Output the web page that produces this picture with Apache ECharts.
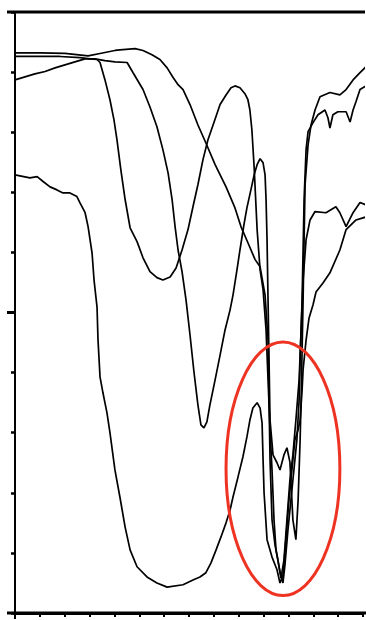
<!DOCTYPE html>
<html>
<head>
<meta charset="utf-8">
<script src="https://cdn.jsdelivr.net/npm/echarts@6/dist/echarts.min.js"></script>
<style>
html,body{margin:0;padding:0;background:#fff;}
#chart{width:366px;height:620px;}
</style>
</head>
<body>
<div id="chart"></div>
<script>
// x ticks every 10 (0..140), y ticks every 10 (0..100)
const xTicks = [0, 140, 10];
const yTicks = [0, 100, 10];

const curve1 = [[0,93.2],[10.1,93.2],[20.1,93.1],[29.4,92.7],[34.2,93.1],[40.2,93.6],[42.2,93.7],[48.3,93.9],[51.5,93.6],[55.1,92.9],[58.3,92.1],[61.2,90.7],[63.6,89.1],[65.6,87.9],[67.6,87.1],[70.4,84.6],[73.6,81.2],[76.8,78.2],[80.5,74.6],[84.9,70.9],[88.5,67.4],[90.9,64.3],[93.7,61.6],[96.6,58.8],[98.6,57.6],[100.6,52.9],[101.8,45.4],[102.2,35.4],[102.6,25.5],[103.4,15.5],[104.6,11.3],[105.8,8.8],[107.0,5.8],[108.2,8.8],[109.4,15.5],[110.6,22.1],[111.8,26.3],[113.0,32.1],[114.3,38.8],[115.1,47.1],[115.9,55.4],[117.1,62.1],[118.7,65.4],[120.7,66.8],[125.1,66.6],[129.1,67.6],[130.7,66.6],[133.2,64.3],[136.0,66.6],[138.8,68.3],[141.2,67.9]];

const curve2 = [[0,92.6],[10.1,92.6],[18.1,92.6],[26.1,92.4],[30.2,92.2],[33.0,92.1],[34.2,91.6],[36.2,88.7],[38.2,85.4],[39.8,82.1],[41.0,78.8],[42.6,73.7],[44.3,68.8],[46.3,64.1],[49.1,61.8],[51.5,59.1],[54.3,56.8],[57.1,55.8],[59.5,55.4],[62.4,55.9],[64.8,57.4],[67.2,60.4],[69.6,63.8],[71.6,67.6],[73.6,71.3],[75.6,75.4],[77.6,78.7],[80.1,81.7],[82.5,84.6],[84.9,86.2],[86.9,87.4],[88.5,87.7],[90.5,87.4],[92.5,86.4],[93.7,85.4],[94.5,83.7],[95.3,80.4],[96.2,74.2],[97.4,63.8],[98.6,57.1],[99.8,53.8],[101.0,47.1],[101.8,38.8],[102.6,30.5],[103.4,23.8],[104.2,15.5],[105.0,10.5],[106.6,6.8],[107.8,5.0],[108.6,8.0],[109.8,13.8],[111.0,18.8],[112.2,23.8],[113.4,28.8],[114.3,35.4],[114.7,42.1],[115.5,52.1],[115.9,60.4],[116.3,68.8],[117.1,77.1],[117.9,80.1],[119.9,81.6],[121.9,82.9],[124.7,83.7],[125.9,82.4],[126.7,80.7],[127.9,82.9],[129.9,83.4],[133.2,83.4],[134.8,81.7],[136.0,83.7],[137.2,85.1],[138.8,87.1],[141.2,87.7]];

const curve3 = [[0,88.7],[4.0,89.2],[8.0,89.7],[12.1,90.1],[16.1,90.7],[20.1,91.2],[24.1,91.7],[28.2,92.2],[32.2,92.2],[36.2,91.9],[40.2,91.7],[45.1,91.6],[47.5,89.9],[51.5,87.1],[54.3,84.2],[57.1,80.9],[59.5,77.1],[61.6,73.2],[63.2,68.8],[64.4,64.3],[65.6,60.4],[67.2,56.8],[68.8,52.1],[70.4,46.3],[72.0,40.1],[73.6,34.6],[74.8,31.3],[76.0,30.8],[77.2,31.8],[78.4,34.6],[80.5,38.8],[82.5,42.9],[84.5,47.1],[86.5,50.4],[87.7,52.9],[89.3,57.1],[90.5,60.4],[92.1,64.6],[93.3,67.4],[94.9,70.4],[96.2,72.9],[97.4,74.6],[98.6,75.6],[99.8,74.9],[100.6,72.9],[101.0,68.8],[101.4,62.1],[101.8,52.1],[102.2,42.1],[102.6,32.1],[103.8,26.3],[105.4,25.0],[106.6,23.8],[108.2,26.3],[109.4,27.5],[110.6,25.1],[111.8,15.5],[113.0,12.2],[113.9,18.8],[114.7,28.8],[115.1,35.4],[115.5,43.8],[115.9,52.1],[116.3,62.1],[116.7,71.3],[117.9,77.9],[119.1,81.2],[120.7,83.7],[122.7,85.9],[126.7,86.6],[130.7,86.2],[133.2,87.1],[136.0,88.7],[138.8,89.9],[141.2,90.9]];

const curve4 = [[0,72.9],[6.0,72.4],[8.9,72.6],[11.3,71.8],[14.1,70.9],[16.9,70.4],[19.3,69.9],[22.1,69.9],[24.9,69.3],[26.1,68.3],[28.2,66.6],[29.4,64.3],[31.0,59.9],[31.8,55.4],[33.0,50.9],[33.4,45.4],[34.2,39.3],[35.4,36.6],[37.0,33.3],[38.2,30.0],[40.2,23.8],[42.2,19.3],[44.3,14.3],[46.3,10.5],[49.1,7.7],[53.1,6.0],[57.1,5.0],[61.2,4.3],[67.6,4.7],[71.6,5.5],[74.4,6.0],[76.8,6.7],[78.8,8.3],[80.9,10.5],[82.9,12.7],[84.9,15.0],[86.5,17.1],[87.7,19.3],[89.7,22.6],[91.7,26.0],[93.3,29.3],[94.5,32.1],[95.7,34.1],[97.4,35.0],[98.6,34.1],[99.4,31.6],[99.8,25.5],[100.2,20.0],[101.4,12.2],[103.4,9.3],[105.4,7.2],[106.6,5.0],[107.8,6.3],[109.0,12.2],[110.2,18.8],[111.4,23.8],[112.6,28.8],[113.9,30.5],[114.7,32.1],[115.5,37.1],[115.9,40.5],[117.1,45.4],[118.3,49.1],[119.9,51.3],[121.1,53.4],[123.9,54.9],[126.7,56.6],[130.7,60.4],[133.2,63.8],[137.2,65.4],[141.2,65.9]];

// highlighted region (ellipse) in data units: centre x, centre y, half-width, half-height
const highlight = [107.8, 24.0, 22.9, 21.1];
const majorYTick = 50;

const chart = echarts.init(document.getElementById('chart'), null, {renderer: 'canvas'});

function lineSeries(data) {
  return {
    type: 'line', data: data, showSymbol: false, symbol: 'none', clip: false,
    lineStyle: {color: '#000', width: 1.7}, silent: true, animation: false
  };
}

chart.setOption({
  animation: false,
  backgroundColor: '#fff',
  grid: {left: 15, top: 12, width: 348, height: 601},
  xAxis: {
    type: 'value', min: xTicks[0], max: xTicks[1], interval: xTicks[2],
    axisLine: {show: true, lineStyle: {color: '#000', width: 3}},
    axisTick: {show: true, inside: false, length: 4, lineStyle: {color: '#000', width: 2}},
    axisLabel: {show: false}, splitLine: {show: false}
  },
  yAxis: {
    type: 'value', min: yTicks[0], max: yTicks[1], interval: yTicks[2],
    axisLine: {show: true, lineStyle: {color: '#000', width: 2}},
    axisTick: {show: true, inside: false, length: 4, lineStyle: {color: '#000', width: 2.5}},
    axisLabel: {show: false}, splitLine: {show: false}
  },
  series: [lineSeries(curve1), lineSeries(curve2), lineSeries(curve3), lineSeries(curve4)]
});

const p00 = chart.convertToPixel({gridIndex: 0}, [xTicks[0], yTicks[0]]);
const p11 = chart.convertToPixel({gridIndex: 0}, [xTicks[1], yTicks[1]]);
const pm = chart.convertToPixel({gridIndex: 0}, [0, majorYTick]);
const pc = chart.convertToPixel({gridIndex: 0}, [highlight[0], highlight[1]]);
const pr = chart.convertToPixel({gridIndex: 0}, [highlight[0] + highlight[2], highlight[1] + highlight[3]]);

chart.setOption({
  graphic: [
    {type: 'line', shape: {x1: 7, y1: p11[1], x2: 365, y2: p11[1]}, style: {stroke: '#000', lineWidth: 3}, z: 10},
    {type: 'line', shape: {x1: 7, y1: p00[1], x2: 366, y2: p00[1]}, style: {stroke: '#000', lineWidth: 3}, z: 10},
    {type: 'line', shape: {x1: p00[0], y1: p11[1] + 2, x2: p00[0], y2: p00[1] + 6}, style: {stroke: '#000', lineWidth: 2}, z: 10},
    {type: 'line', shape: {x1: 7, y1: pm[1], x2: p00[0], y2: pm[1]}, style: {stroke: '#000', lineWidth: 3}, z: 10},
    {type: 'ellipse', shape: {cx: pc[0], cy: pc[1], rx: Math.abs(pr[0] - pc[0]), ry: Math.abs(pr[1] - pc[1])},
     style: {fill: 'none', stroke: '#ee3322', lineWidth: 3}, z: 20}
  ]
});
</script>
</body>
</html>
